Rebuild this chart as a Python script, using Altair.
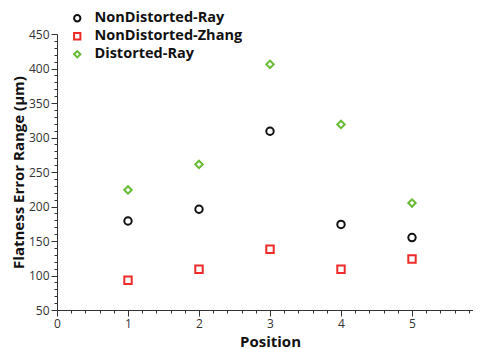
import altair as alt
import pandas as pd

positions = [1, 2, 3, 4, 5]
series_names = ["NonDistorted-Ray", "NonDistorted-Zhang", "Distorted-Ray"]
nondistorted_ray = [179, 196, 309, 174, 155]
nondistorted_zhang = [93, 109, 138, 109, 124]
distorted_ray = [224, 261, 406, 319, 205]
colors = ["#111111", "#ee2a2a", "#66bb33"]
shapes = ["circle", "square", "diamond"]

x_ticks = [round(i * 0.2, 1) for i in range(0, 31)]
y_ticks = list(range(50, 451, 10))

rows = []
for name, vals in zip(series_names, [nondistorted_ray, nondistorted_zhang, distorted_ray]):
    for p, v in zip(positions, vals):
        rows.append({"Position": p, "Value": v, "Series": name})
df = pd.DataFrame(rows)

font = "Open Sans"

chart = alt.Chart(df).mark_point(filled=False, strokeWidth=2, size=55, opacity=1).encode(
    x=alt.X("Position:Q", scale=alt.Scale(domain=[0, 6], nice=False, zero=False),
            axis=alt.Axis(values=x_ticks, title="Position", grid=False,
                          labelExpr="datum.value % 1 === 0 ? format(datum.value, 'd') : ''",
                          tickSize={"condition": {"test": "datum.value % 1 === 0", "value": 6}, "value": 3},
                          labelOverlap=False, labelFlush=False,
                          domainColor="#333", tickColor="#333", labelColor="#333",
                          labelFont=font, labelFontSize=12, titleFont=font,
                          titleFontSize=15, titleFontWeight="bold", titleColor="#111",
                          titlePadding=5)),
    y=alt.Y("Value:Q", scale=alt.Scale(domain=[50, 450], nice=False, zero=False),
            axis=alt.Axis(values=y_ticks, title="Flatness Error Range (µm)", grid=False,
                          labelExpr="datum.value % 50 === 0 ? datum.label : ''",
                          tickSize={"condition": {"test": "datum.value % 50 === 0", "value": 6}, "value": 3},
                          labelOverlap=False, labelFlush=False,
                          domainColor="#333", tickColor="#333", labelColor="#333",
                          labelFont=font, labelFontSize=12, titleFont=font,
                          titleFontSize=15, titleFontWeight="bold", titleColor="#111",
                          titlePadding=2)),
    color=alt.Color("Series:N", scale=alt.Scale(domain=series_names, range=colors),
                    legend=alt.Legend(title=None, orient="none", legendX=13, legendY=-23,
                                      labelFont=font, labelFontSize=14.5, labelFontWeight="bold",
                                      labelColor="#111", symbolStrokeWidth=2, symbolSize=40,
                                      rowPadding=2, padding=0, labelOffset=10)),
    shape=alt.Shape("Series:N", scale=alt.Scale(domain=series_names, range=shapes), legend=None),
).properties(
    width=426, height=276,
    autosize=alt.AutoSizeParams(type="none"),
    padding={"left": 49, "top": 26, "right": -10, "bottom": 40},
).configure_view(stroke=None)

chart.save("out.html", embed_options={"renderer": "svg", "actions": False})
